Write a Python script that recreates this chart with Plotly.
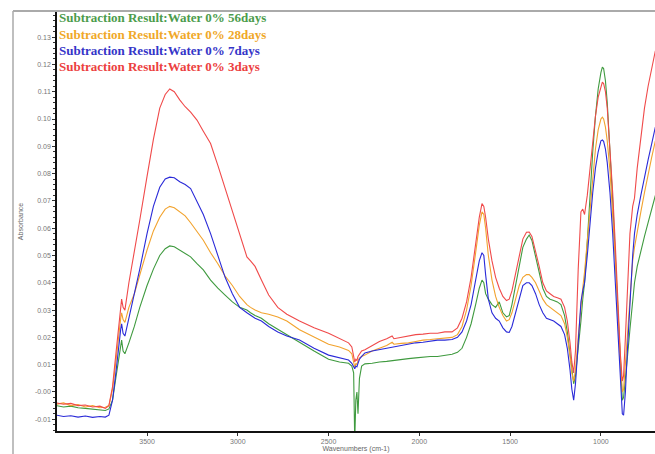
import plotly.graph_objects as go

# Wavenumbers (cm-1), descending
wn = [4000, 3960, 3920, 3880, 3840, 3800, 3760, 3730, 3710, 3690, 3670, 3655, 3645, 3640, 3632, 3622,
      3600, 3570, 3540, 3500, 3465, 3430, 3400, 3375, 3350, 3320, 3290, 3260, 3225, 3190, 3150, 3110,
      3070, 3030, 2990, 2950, 2930, 2905, 2870, 2830, 2780, 2730, 2660, 2580, 2500, 2440,
      2390, 2372, 2362, 2356, 2350, 2344, 2338, 2330, 2318, 2300, 2260, 2220, 2180, 2150, 2140, 2100,
      2060, 2020, 1980, 1940, 1900, 1860, 1820, 1790,
      1765, 1740, 1715, 1690, 1670, 1655, 1645, 1635, 1620, 1600, 1580, 1560, 1540, 1520, 1505, 1490,
      1470, 1450, 1430, 1410,
      1395, 1380, 1360, 1340, 1320, 1300, 1280, 1260, 1240, 1220, 1200, 1185, 1170, 1160, 1150,
      1140, 1125, 1110, 1100, 1090, 1075, 1060, 1045, 1030, 1015, 1000, 992, 985, 975, 965, 950, 935,
      920, 905, 893, 882, 875, 865, 855, 840, 825, 815, 800, 780, 760, 740, 720, 700]

abs_3days = [-0.0040, -0.0045, -0.0042, -0.0050, -0.0048, -0.0055, -0.0052, -0.0060, -0.0050, 0.0020, 0.0150, 0.0260, 0.0320, 0.0340, 0.0310, 0.0300,
             0.040, 0.051, 0.063, 0.079, 0.0925, 0.104, 0.109, 0.111, 0.110, 0.107, 0.1045, 0.1025, 0.0996, 0.0955, 0.091, 0.083,
             0.0747, 0.066, 0.058, 0.0495, 0.048, 0.046, 0.041, 0.0355, 0.031, 0.0285, 0.026, 0.0235, 0.0215, 0.0195,
             0.018, 0.0165, 0.013, 0.011, 0.012, 0.0115, 0.013, 0.014, 0.015, 0.0155, 0.017, 0.0185, 0.0195, 0.0205, 0.0195, 0.020,
             0.0205, 0.021, 0.0212, 0.0215, 0.0215, 0.022, 0.022, 0.0235,
             0.027, 0.033, 0.042, 0.054, 0.064, 0.069, 0.068, 0.064, 0.056, 0.048, 0.042, 0.038, 0.035, 0.0335, 0.034, 0.037,
             0.043, 0.050, 0.056, 0.0585,
             0.0586, 0.057, 0.052, 0.046, 0.040, 0.037, 0.036, 0.035, 0.0345, 0.034, 0.031, 0.026, 0.018, 0.011, 0.007,
             0.015, 0.045, 0.066, 0.067, 0.065, 0.072, 0.082, 0.092, 0.101, 0.108, 0.112, 0.1135, 0.113, 0.110, 0.104, 0.090, 0.073,
             0.053, 0.030, 0.014, 0.004, 0.006, 0.020, 0.038, 0.058, 0.068, 0.071, 0.082, 0.094, 0.104, 0.112, 0.119, 0.125]

abs_7days = [-0.0085, -0.0090, -0.0087, -0.0092, -0.0088, -0.0093, -0.0090, -0.0092, -0.0085, -0.0030, 0.0080, 0.0180, 0.0230, 0.0250, 0.0215, 0.0205,
             0.027, 0.035, 0.045, 0.058, 0.068, 0.075, 0.078, 0.0787, 0.0785, 0.077, 0.076, 0.0745, 0.070, 0.065, 0.058, 0.050,
             0.042, 0.036, 0.031, 0.029, 0.028, 0.027, 0.026, 0.024, 0.022, 0.0205, 0.019, 0.016, 0.0135, 0.0125,
             0.0117, 0.0105, 0.0090, 0.0085, 0.0095, 0.0092, 0.0105, 0.012, 0.013, 0.0143, 0.0150, 0.0155, 0.016, 0.0165, 0.0165, 0.017,
             0.0175, 0.018, 0.0182, 0.0185, 0.019, 0.019, 0.0192, 0.020,
             0.022, 0.026, 0.032, 0.041, 0.048, 0.051, 0.050, 0.043, 0.034, 0.029, 0.027, 0.026, 0.0235, 0.022, 0.0218, 0.024,
             0.029, 0.035, 0.039, 0.040,
             0.040, 0.039, 0.036, 0.032, 0.029, 0.027, 0.0265, 0.026, 0.025, 0.024, 0.021, 0.016, 0.008, 0.001, -0.003,
             0.003, 0.018, 0.033, 0.037, 0.040, 0.050, 0.062, 0.073, 0.082, 0.088, 0.092, 0.0923, 0.0918, 0.089, 0.084, 0.073, 0.058,
             0.040, 0.020, 0.004, -0.008, -0.0085, 0.000, 0.014, 0.033, 0.050, 0.058, 0.065, 0.072, 0.079, 0.085, 0.091, 0.097]

abs_28days = [-0.0045, -0.0040, -0.0050, -0.0046, -0.0055, -0.0050, -0.0058, -0.0056, -0.0050, 0.0010, 0.0120, 0.0220, 0.0270, 0.0290, 0.0265, 0.0255,
              0.031, 0.036, 0.043, 0.052, 0.059, 0.064, 0.067, 0.068, 0.0675, 0.066, 0.0645, 0.062, 0.059, 0.0556, 0.051, 0.047,
              0.0425, 0.039, 0.035, 0.032, 0.031, 0.030, 0.029, 0.0285, 0.0275, 0.026, 0.0228, 0.020, 0.0175, 0.0165,
              0.0152, 0.014, 0.011, 0.009, 0.0105, 0.010, 0.0115, 0.0125, 0.013, 0.0135, 0.015, 0.016, 0.017, 0.0182, 0.0175, 0.0178,
              0.018, 0.0185, 0.019, 0.0192, 0.0195, 0.0198, 0.020, 0.021,
              0.024, 0.030, 0.039, 0.051, 0.061, 0.066, 0.065, 0.060, 0.050, 0.041, 0.035, 0.031, 0.028, 0.026, 0.0265, 0.029,
              0.034, 0.039, 0.042, 0.043,
              0.043, 0.042, 0.040, 0.037, 0.034, 0.032, 0.031, 0.030, 0.029, 0.028, 0.025, 0.020, 0.013, 0.007, 0.004,
              0.008, 0.020, 0.032, 0.038, 0.044, 0.056, 0.068, 0.079, 0.089, 0.096, 0.100, 0.1007, 0.100, 0.097, 0.092, 0.081, 0.066,
              0.048, 0.027, 0.012, 0.000, 0.001, 0.010, 0.022, 0.036, 0.048, 0.053, 0.058, 0.066, 0.073, 0.080, 0.086, 0.092]

abs_56days = [-0.0050, -0.0055, -0.0052, -0.0058, -0.0060, -0.0062, -0.0065, -0.0068, -0.0062, -0.0030, 0.0060, 0.0130, 0.0170, 0.0190, 0.0150, 0.0140,
              0.018, 0.024, 0.031, 0.039, 0.045, 0.050, 0.0525, 0.0535, 0.0532, 0.052, 0.051, 0.0495, 0.047, 0.0447, 0.041, 0.038,
              0.0355, 0.033, 0.031, 0.030, 0.029, 0.028, 0.027, 0.025, 0.023, 0.021, 0.018, 0.015, 0.012, 0.011,
              0.0105, 0.0095, 0.007, -0.018, -0.003, 0.000, -0.008, 0.005, 0.0095, 0.0103, 0.0105, 0.011, 0.0112, 0.0115, 0.0115, 0.012,
              0.0122, 0.0125, 0.0128, 0.013, 0.013, 0.0135, 0.0138, 0.0145,
              0.016, 0.020, 0.025, 0.032, 0.038, 0.041, 0.040, 0.036, 0.034, 0.032, 0.031, 0.033, 0.029, 0.0275, 0.028, 0.032,
              0.039, 0.047, 0.053, 0.056,
              0.0575, 0.0555, 0.050, 0.044, 0.038, 0.035, 0.034, 0.0335, 0.033, 0.032, 0.028, 0.022, 0.014, 0.007, 0.003,
              0.006, 0.015, 0.026, 0.034, 0.040, 0.055, 0.072, 0.088, 0.101, 0.111, 0.117, 0.119, 0.1185, 0.114, 0.106, 0.090, 0.070,
              0.049, 0.027, 0.011, -0.003, -0.002, 0.004, 0.012, 0.023, 0.033, 0.040, 0.046, 0.052, 0.057, 0.062, 0.067, 0.072]

series_names = ["Subtraction Result:Water 0% 56days", "Subtraction Result:Water 0% 28days",
                "Subtraction Result:Water 0% 7days", "Subtraction Result:Water 0% 3days"]
series_vals = [abs_56days, abs_28days, abs_7days, abs_3days]
line_colors = ["#3f9a3f", "#f2a32e", "#2a2ad8", "#f04a4a"]
text_colors = ["#4c9c4c", "#f0a828", "#3535c8", "#ec4040"]

y_tickvals = [-0.01, 0.0, 0.01, 0.02, 0.03, 0.04, 0.05, 0.06, 0.07, 0.08, 0.09, 0.10, 0.11, 0.12, 0.13]
y_ticktext = ["-0.01", "-0.00", "0.01", "0.02", "0.03", "0.04", "0.05", "0.06", "0.07", "0.08", "0.09", "0.10", "0.11", "0.12", "0.13"]
x_tickvals = [3500, 3000, 2500, 2000, 1500, 1000]

fig = go.Figure()
for name, vals, col in zip(series_names, series_vals, line_colors):
    fig.add_trace(go.Scatter(x=wn, y=vals, mode="lines", name=name,
                             line=dict(color=col, width=1.1), showlegend=False))

for i, (name, tc) in enumerate(zip(series_names, text_colors)):
    fig.add_annotation(x=0, y=1 - (6 + 16.3 * i) / 419, xref="paper", yref="paper",
                       xanchor="left", yanchor="middle", showarrow=False,
                       text="<b>" + name + "</b>",
                       font=dict(family="Liberation Serif", size=13, color=tc))

fig.update_layout(
    width=655, height=454,
    margin=dict(l=57, r=0, t=12, b=23),
    paper_bgcolor="white", plot_bgcolor="white",
    font=dict(family="Liberation Sans", size=7, color="#777777"),
    xaxis=dict(range=[3996, 702], tickvals=x_tickvals, ticks="outside", ticklen=3,
               tickcolor="#333333", showline=True, linecolor="#111111", linewidth=1.5,
               showgrid=False, zeroline=False, tickfont=dict(size=7, color="#777777"),
               title=dict(text="Wavenumbers (cm-1)", font=dict(size=7, color="#666666"), standoff=2)),
    yaxis=dict(range=[-0.0143, 0.1392], tickvals=y_tickvals, ticktext=y_ticktext,
               ticks="outside", ticklen=3, tickcolor="#333333",
               minor=dict(dtick=0.002, ticks="outside", ticklen=2, tickcolor="#333333"),
               showline=True, linecolor="#111111", linewidth=1.5,
               showgrid=False, zeroline=False, tickfont=dict(size=7, color="#777777"),
               title=dict(text="Absorbance", font=dict(size=7, color="#666666"), standoff=10)),
)

# outer window frame (gray)
fig.add_shape(type="line", xref="paper", yref="paper", x0=-44 / 598, x1=1.0, y0=1 + 1 / 419, y1=1 + 1 / 419,
              line=dict(color="#aaaaaa", width=2))
fig.add_shape(type="line", xref="paper", yref="paper", x0=-44 / 598, x1=-44 / 598, y0=1 + 1 / 419, y1=-23 / 419,
              line=dict(color="#aaaaaa", width=1.5))

fig.write_html("out.html")
